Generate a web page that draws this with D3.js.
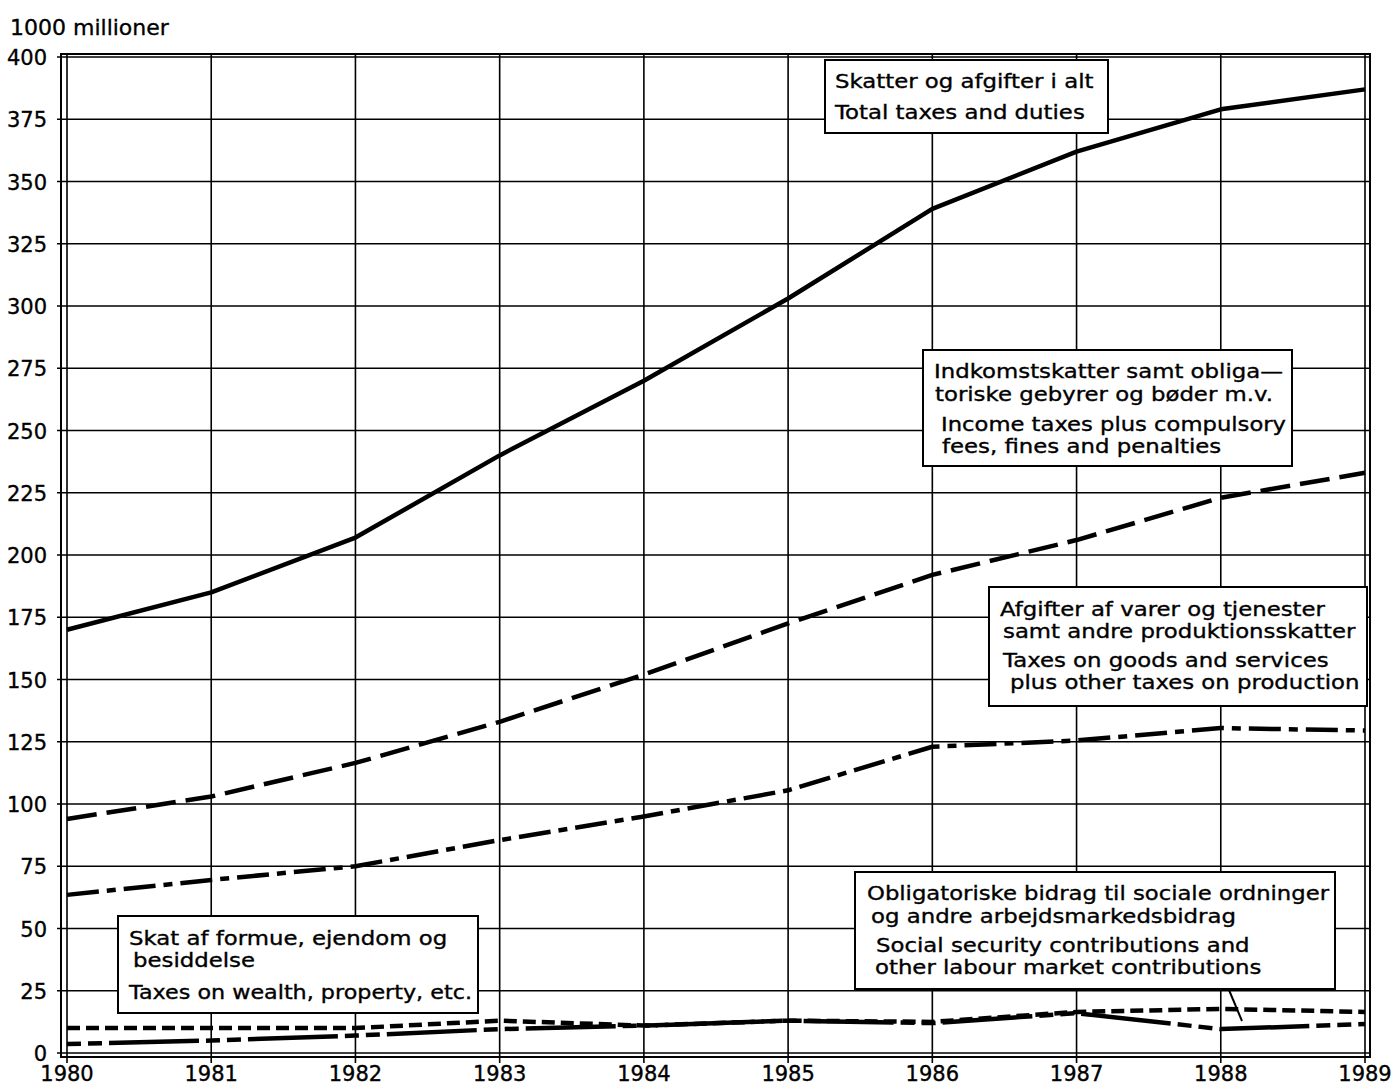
<!DOCTYPE html>
<html><head><meta charset="utf-8">
<script src="https://cdn.jsdelivr.net/npm/d3@7"></script>
<style>body{margin:0;background:#fff}svg{display:block}text{font-family:"DejaVu Sans",sans-serif;fill:#000;stroke:#000;stroke-width:0.35px}</style>
</head><body>
<svg id="c" width="1396" height="1086"></svg>
<script>
const years = [1980,1981,1982,1983,1984,1985,1986,1987,1988,1989];
const yTicks = [0,25,50,75,100,125,150,175,200,225,250,275,300,325,350,375,400];
const yUnit = "1000 millioner";
const total    = [170,185,207,240,270,303,339,362,379,387];
const income   = [94,103,116.5,133,152,172.5,192,206,223,233];
const goods    = [63.5,69.5,75,85.5,95,105.5,123,125.5,130.5,129.5];
const social   = [10,10,10,13,11,13,12.5,16.5,17.7,16.5];
const wealth   = [3.6,5,7,9.6,11,13,12,16,9.6,11.6];
const labelTotal  = ["Skatter og afgifter i alt","Total taxes and duties"];
const labelIncome = ["Indkomstskatter samt obliga\u2014","toriske gebyrer og b\u00f8der m.v.","Income taxes plus compulsory","fees, fines and penalties"];
const labelGoods  = ["Afgifter af varer og tjenester","samt andre produktionsskatter","Taxes on goods and services","plus other taxes on production"];
const labelSocial = ["Obligatoriske bidrag til sociale ordninger","og andre arbejdsmarkedsbidrag","Social security contributions and","other labour market contributions"];
const labelWealth = ["Skat af formue, ejendom og","besiddelse","Taxes on wealth, property, etc."];

const svg = d3.select("#c");
const x = d3.scaleLinear().domain([1980,1989]).range([67,1365]);
const y = d3.scaleLinear().domain([0,400]).range([1053,57]);
const L=61, R=1370, T=54, B=1057;

// gridlines
svg.append("g").selectAll("line").data(yTicks).join("line")
  .attr("x1",L-4).attr("x2",R).attr("y1",d=>y(d)).attr("y2",d=>y(d))
  .attr("stroke","#000").attr("stroke-width",1.6);
svg.append("g").selectAll("line").data(years).join("line")
  .attr("x1",d=>x(d)).attr("x2",d=>x(d)).attr("y1",T).attr("y2",B+6)
  .attr("stroke","#000").attr("stroke-width",1.6);
svg.append("rect").attr("x",L).attr("y",T).attr("width",R-L).attr("height",B-T)
  .attr("fill","none").attr("stroke","#000").attr("stroke-width",2);

// axis labels
svg.append("g").selectAll("text").data(yTicks).join("text")
  .attr("x",47).attr("y",d=>y(d)+8).attr("text-anchor","end")
  .style("font-size","21px").text(d=>d);
svg.append("g").selectAll("text").data(years).join("text")
  .attr("x",d=>x(d)).attr("y",1081).attr("text-anchor","middle")
  .style("font-size","21px").text(d=>d);
svg.append("text").attr("x",10).attr("y",35).style("font-size","22px").text(yUnit);

// annotation boxes
const boxes = [
  {lines:labelTotal,  x:825, y:60,  w:283, h:73,  tx:[835,835], ty:[88,119]},
  {lines:labelIncome, x:923, y:350, w:369, h:116, tx:[934,935,941,942], ty:[378,401,431,453]},
  {lines:labelGoods,  x:989, y:587, w:378, h:119, tx:[1000,1003,1003,1010], ty:[616,638,667,689]},
  {lines:labelSocial, x:855, y:872, w:480, h:117, tx:[867,871,876,875], ty:[900,923,952,974]},
  {lines:labelWealth, x:118, y:916, w:360, h:97,  tx:[129,133,129], ty:[945,967,999]}
];
const stretch = 1.17;
boxes.forEach(b=>{
  const g=svg.append("g");
  g.append("rect").attr("x",b.x).attr("y",b.y).attr("width",b.w).attr("height",b.h)
    .attr("fill","#fff").attr("stroke","#000").attr("stroke-width",2);
  g.selectAll("text").data(b.lines).join("text")
    .attr("x",(d,i)=>b.tx[i]).attr("y",(d,i)=>b.ty[i])
    .style("font-size","19.5px").text(d=>d)
    .each(function(){
      const len=this.getComputedTextLength();
      const maxLen=b.x+b.w-6-+this.getAttribute("x");
      d3.select(this).attr("textLength",Math.min(len*stretch,maxLen)).attr("lengthAdjust","spacingAndGlyphs");
    });
});
svg.append("line").attr("x1",1229).attr("y1",990).attr("x2",1242).attr("y2",1021)
  .attr("stroke","#000").attr("stroke-width",2);

// series
const line = d3.line().x((d,i)=>x(years[i])).y(d=>y(d)).curve(d3.curveLinear);
const series = [
  {v:total,  dash:null},
  {v:income, dash:"30,10"},
  {v:goods,  dash:"32,8,9,8"},
  {v:social, dash:"13,6"},
  {v:wealth, dash:"14,7,14,7,90,7"}
];
series.forEach(s=>{
  svg.append("path").attr("d",line(s.v)).attr("fill","none")
    .attr("stroke","#000").attr("stroke-width",4.5)
    .attr("stroke-dasharray",s.dash).attr("stroke-linejoin","round");
});
</script>
</body></html>
